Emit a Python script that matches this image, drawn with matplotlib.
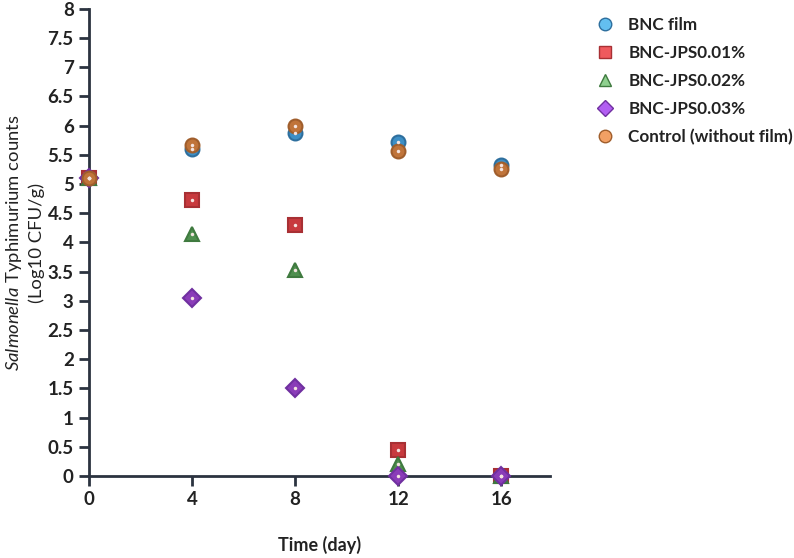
import matplotlib
matplotlib.use('Agg')
import matplotlib.pyplot as plt
from matplotlib.lines import Line2D

plt.rcParams['font.family'] = ['Lato', 'DejaVu Sans']
plt.rcParams['mathtext.fontset'] = 'custom'
plt.rcParams['mathtext.rm'] = 'Lato'
plt.rcParams['mathtext.it'] = 'Lato:italic'

days = [0, 4, 8, 12, 16]
bnc_film = [5.1, 5.6, 5.87, 5.72, 5.32]
jps001 = [5.1, 4.73, 4.3, 0.45, 0.0]
jps002 = [5.1, 4.15, 3.52, 0.2, 0.0]
jps003 = [5.1, 3.05, 1.5, 0.0, 0.0]
control = [5.1, 5.67, 6.0, 5.57, 5.25]

labels = ['BNC film', 'BNC-JPS0.01%', 'BNC-JPS0.02%', 'BNC-JPS0.03%', 'Control (without film)']
series = [bnc_film, jps001, jps002, jps003, control]
markers = ['o', 's', '^', 'D', 'o']
sizes = [10, 10, 10, 9, 10]
face = ['#3d8fc6', '#c83a3e', '#4f8f4f', '#8a3cb8', '#c0743a']
edge = ['#2e6f9e', '#a83034', '#3f7a3f', '#7030a0', '#a05e2c']
light = ['#63bff0', '#ef5a5e', '#8fd08f', '#b25ef2', '#f2a064']
axcol = '#2b3340'

fig = plt.figure(figsize=(7.94, 5.58), dpi=100)
ax = fig.add_axes([0.112, 0.147, 0.581, 0.837])

for ys, m, s, fc, ec, lc in zip(series, markers, sizes, face, edge, light):
    ax.plot(days, ys, linestyle='none', marker=m, markersize=s, markerfacecolor=fc,
            markeredgecolor=ec, markeredgewidth=1.5, clip_on=False, zorder=3)
    ax.plot(days, ys, linestyle='none', marker='o', markersize=2.5, markerfacecolor='#f4e4e0',
            markeredgecolor='none', clip_on=False, zorder=4)

ax.set_xlim(0, 17.9)
ax.set_ylim(0, 8)
ax.set_xticks(days)
ax.set_yticks([i * 0.5 for i in range(17)])
ax.set_yticklabels(['%g' % (i * 0.5) for i in range(17)])

for side in ['top', 'right']:
    ax.spines[side].set_visible(False)
for side in ['left', 'bottom']:
    ax.spines[side].set_linewidth(2)
    ax.spines[side].set_color(axcol)
ax.tick_params(axis='both', length=7, width=2, color=axcol, labelsize=13.5,
               labelcolor='#222222', pad=4)
for t in ax.get_xticklabels() + ax.get_yticklabels():
    t.set_fontweight('bold')

ax.set_xlabel('Time (day)', fontsize=13, fontweight='bold', color='#222222')
ax.xaxis.set_label_coords(0.5, -0.128)
ax.set_ylabel('$\\it{Salmonella}$ Typhimurium counts\n(Log10 CFU/g)', fontsize=13.3,
              color='#222222', linespacing=1.3)
ax.yaxis.set_label_coords(-0.095, 0.5)

handles = [Line2D([], [], linestyle='none', marker=m, markersize=s - 1, markerfacecolor=lc,
                  markeredgecolor=ec, markeredgewidth=1.0)
           for m, s, ec, lc in zip(markers, sizes, edge, light)]
leg = fig.legend(handles, labels, loc='upper left', bbox_to_anchor=(0.73, 0.997),
                 frameon=False, fontsize=12.3, labelspacing=0.7, handletextpad=0.75,
                 handlelength=1.2)
for t in leg.get_texts():
    t.set_fontweight('bold')
    t.set_color('#222222')

fig.savefig('out.png', dpi=100)
